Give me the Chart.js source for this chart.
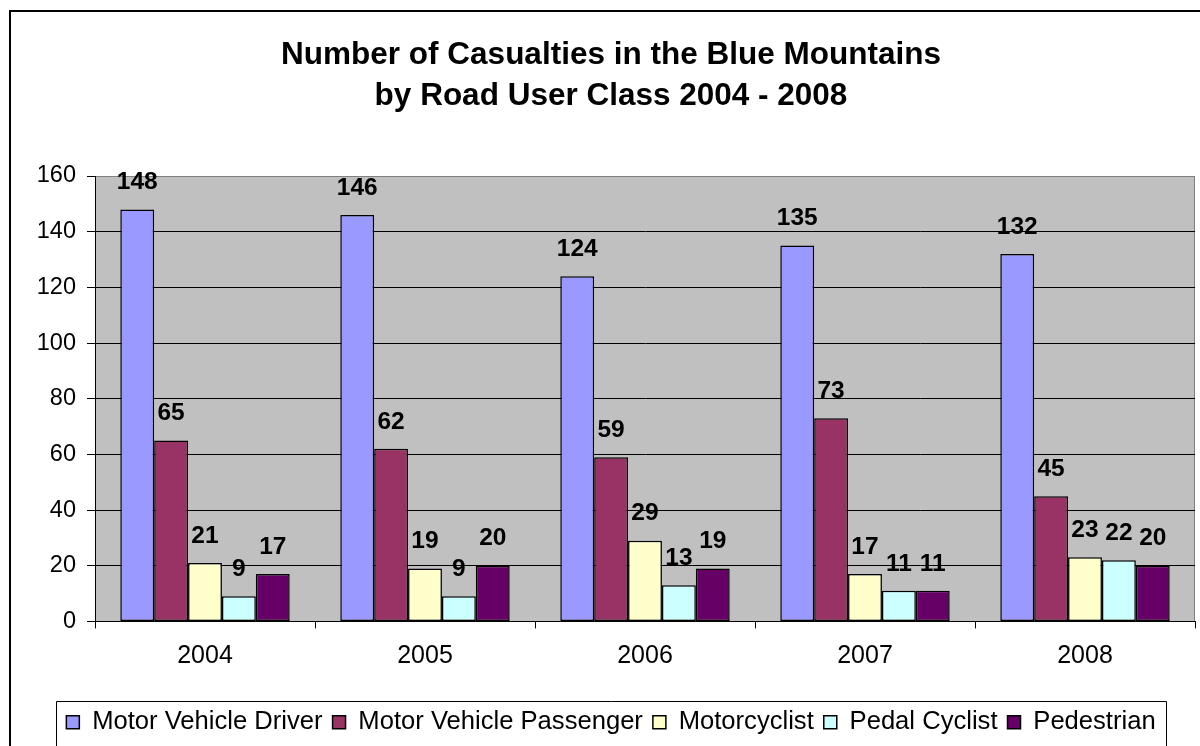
<!DOCTYPE html>
<html>
<head>
<meta charset="utf-8">
<title>Number of Casualties in the Blue Mountains by Road User Class 2004 - 2008</title>
<script src="https://cdn.jsdelivr.net/npm/chart.js@4.4.1/dist/chart.umd.min.js"></script>
<style>
  html, body { margin: 0; padding: 0; background: #ffffff; overflow: hidden; }
  canvas { display: block; }
</style>
</head>
<body>
<canvas id="chart" width="1222" height="760"></canvas>
<script>
// Road user casualties per year
const years = ['2004', '2005', '2006', '2007', '2008'];
const driver = [148, 146, 124, 135, 132];
const passenger = [65, 62, 59, 73, 45];
const motorcyclist = [21, 19, 29, 17, 23];
const pedalCyclist = [9, 9, 13, 11, 22];
const pedestrian = [17, 20, 19, 11, 20];
const yTicks = [0, 20, 40, 60, 80, 100, 120, 140, 160];

const FONT = "'Liberation Sans', Arial, sans-serif";

// grey plot area with a thin frame, plus the outer chart border
const frame = {
  id: 'frame',
  beforeDraw(chart) {
    const ctx = chart.ctx;
    const a = chart.chartArea;
    ctx.save();
    ctx.fillStyle = '#ffffff';
    ctx.fillRect(0, 0, chart.width, chart.height);
    ctx.strokeStyle = '#000000';
    ctx.lineWidth = 2;
    ctx.strokeRect(10, 11, chart.width - 20, chart.height - 20);
    ctx.fillStyle = '#C0C0C0';
    ctx.fillRect(a.left, a.top, a.right - a.left, a.bottom - a.top);
    ctx.strokeStyle = '#808080';
    ctx.lineWidth = 1;
    ctx.beginPath();
    ctx.moveTo(a.left, a.top + 0.5);
    ctx.lineTo(a.right - 0.5, a.top + 0.5);
    ctx.lineTo(a.right - 0.5, a.bottom);
    ctx.stroke();
    ctx.restore();
  }
};

// value labels above each bar
const valueLabels = {
  id: 'valueLabels',
  afterDatasetsDraw(chart) {
    const ctx = chart.ctx;
    ctx.save();
    ctx.font = 'bold 24.5px ' + FONT;
    ctx.fillStyle = '#000000';
    ctx.textAlign = 'center';
    ctx.textBaseline = 'middle';
    chart.data.datasets.forEach((ds, i) => {
      const meta = chart.getDatasetMeta(i);
      meta.data.forEach((bar, j) => {
        ctx.fillText(String(ds.data[j]), bar.x, bar.y - 27);
      });
    });
    ctx.restore();
  }
};

// box around the legend row
const legendBox = {
  id: 'legendBox',
  afterDraw(chart) {
    const lg = chart.legend;
    const hb = lg.legendHitBoxes;
    if (!hb || !hb.length) return;
    const last = hb[hb.length - 1];
    const left = Math.round(hb[0].left - 10) + 0.5;
    const right = Math.round(last.left + last.width + 10) + 0.5;
    const top = Math.round(lg.top + 2) + 0.5;
    const ctx = chart.ctx;
    ctx.save();
    ctx.strokeStyle = '#000000';
    ctx.lineWidth = 1;
    ctx.beginPath();
    ctx.moveTo(left, chart.height + 5);
    ctx.lineTo(left, top);
    ctx.lineTo(right, top);
    ctx.lineTo(right, chart.height + 5);
    ctx.stroke();
    ctx.restore();
  }
};

function series(label, data, color) {
  return {
    label: label,
    data: data,
    backgroundColor: color,
    borderColor: '#000000',
    borderWidth: 1.5,
    borderSkipped: false,
    categoryPercentage: 0.77,
    barPercentage: 1.0
  };
}

new Chart(document.getElementById('chart'), {
  type: 'bar',
  data: {
    labels: years,
    datasets: [
      series('Motor Vehicle Driver', driver, '#9999FF'),
      series('Motor Vehicle Passenger', passenger, '#993366'),
      series('Motorcyclist', motorcyclist, '#FFFFCC'),
      series('Pedal Cyclist', pedalCyclist, '#CCFFFF'),
      series('Pedestrian', pedestrian, '#660066')
    ]
  },
  options: {
    responsive: false,
    animation: false,
    devicePixelRatio: 1,
    layout: { padding: { left: 0, right: 0, top: 0, bottom: 15 } },
    plugins: {
      title: {
        display: true,
        text: ['Number of Casualties in the Blue Mountains', 'by Road User Class 2004 - 2008'],
        color: '#000000',
        font: { family: FONT, size: 31.5, weight: 'bold', lineHeight: '41px' },
        padding: { top: 34.5, bottom: 59.5 }
      },
      legend: {
        display: true,
        position: 'bottom',
        labels: {
          color: '#000000',
          font: { family: FONT, size: 25.6 },
          boxWidth: 13,
          boxHeight: 13,
          padding: 10
        }
      },
      tooltip: { enabled: false }
    },
    scales: {
      x: {
        offset: true,
        grid: {
          display: true,
          offset: true,
          drawOnChartArea: false,
          tickLength: 7,
          color: '#000000',
          tickColor: '#000000'
        },
        border: { display: true, color: '#000000', width: 1 },
        ticks: {
          color: '#000000',
          font: { family: FONT, size: 25 },
          padding: 13,
          maxRotation: 0
        },
        afterFit(scale) { scale.height = 78; }
      },
      y: {
        min: 0,
        max: 160,
        afterBuildTicks(scale) { scale.ticks = yTicks.map(v => ({ value: v })); },
        grid: {
          color: (c) => (c.tick && c.tick.value === 160 ? '#808080' : '#000000'),
          tickColor: '#000000',
          tickLength: 8,
          lineWidth: 1
        },
        border: { display: true, color: '#000000', width: 1 },
        ticks: {
          color: '#000000',
          font: { family: FONT, size: 23.5 },
          padding: 11
        },
        afterFit(scale) { scale.width = 95; }
      },
      yRight: {
        position: 'right',
        display: true,
        grid: { display: false, drawTicks: false },
        border: { display: false },
        ticks: { display: false },
        afterFit(scale) { scale.width = 27; }
      }
    }
  },
  plugins: [frame, valueLabels, legendBox]
});
</script>
</body>
</html>
